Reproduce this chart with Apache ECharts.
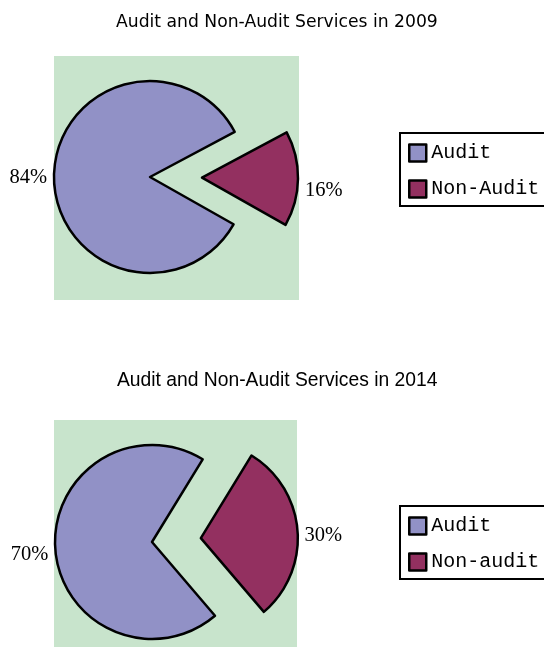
<!DOCTYPE html>
<html>
<head>
<meta charset="utf-8">
<script src="https://cdn.jsdelivr.net/npm/echarts@6/dist/echarts.min.js"></script>
<style>
html,body{margin:0;padding:0;background:#fff;}
#chart{width:544px;height:657px;}
</style>
</head>
<body>
<div id="chart"></div>
<script>
// ---- data ----
const titles = ['Audit and Non-Audit Services in 2009', 'Audit and Non-Audit Services in 2014'];
const categories2009 = ['Audit', 'Non-Audit'];
const values2009 = [84, 16];
const categories2014 = ['Audit', 'Non-audit'];
const values2014 = [70, 30];

const colors = ['#9191c6', '#933060'];
const green = '#c8e4cc';

const chart = echarts.init(document.getElementById('chart'), null, {renderer: 'canvas'});

function pieSeries(cats, vals, center, radius, startAngle, offset, dys) {
  return {
    type: 'pie',
    center: center,
    radius: radius,
    startAngle: startAngle,
    clockwise: true,
    selectedMode: 'multiple',
    selectedOffset: offset,
    avoidLabelOverlap: false,
    animation: false,
    emphasis: {disabled: true},
    itemStyle: {borderColor: '#000', borderWidth: 2.5},
    label: {
      show: true,
      position: 'outside',
      formatter: '{c}%',
      fontFamily: 'Liberation Serif',
      fontSize: 20.5,
      color: '#000'
    },
    labelLine: {show: false, length: 2, length2: 0},
    labelLayout: function (p) { return {dy: dys[p.dataIndex]}; },
    data: cats.map((c, i) => ({
      name: c,
      value: vals[i],
      selected: i === 1,
      itemStyle: {color: colors[i]}
    }))
  };
}

function legend(cats, top) {
  return {
    data: cats,
    orient: 'vertical',
    left: 400,
    top: top,
    borderColor: '#000',
    borderWidth: 2,
    padding: [10, 6, 7, 8],
    itemWidth: 17,
    itemHeight: 17,
    itemGap: 16,
    icon: 'rect',
    selectedMode: false,
    itemStyle: {borderColor: '#000', borderWidth: 2.5},
    textStyle: {fontFamily: 'Liberation Mono', fontSize: 20, color: '#000', lineHeight: 20}
  };
}

chart.setOption({
  backgroundColor: '#fff',
  color: colors,
  title: [
    {text: titles[0], left: 116, top: 14, padding: 0,
     textStyle: {fontFamily: 'DejaVu Sans', fontSize: 17.2, fontWeight: 'normal', color: '#000'}},
    {text: titles[1], left: 117, top: 371, padding: 0,
     textStyle: {fontFamily: 'Liberation Sans', fontSize: 19.3, fontWeight: 'normal', color: '#000'}}
  ],
  graphic: [
    {type: 'rect', z: -10, silent: true, shape: {x: 54, y: 56, width: 245, height: 244}, style: {fill: green}},
    {type: 'rect', z: -10, silent: true, shape: {x: 54, y: 420, width: 243, height: 227}, style: {fill: green}}
  ],
  legend: [legend(categories2009, 133), legend(categories2014, 506)],
  series: [
    pieSeries(categories2009, values2009, [150, 177], 96, 330.5, 52, [2, 12]),
    pieSeries(categories2014, values2014, [152, 542], 97, 310.5, 49, [5, 5])
  ]
});
</script>
</body>
</html>
